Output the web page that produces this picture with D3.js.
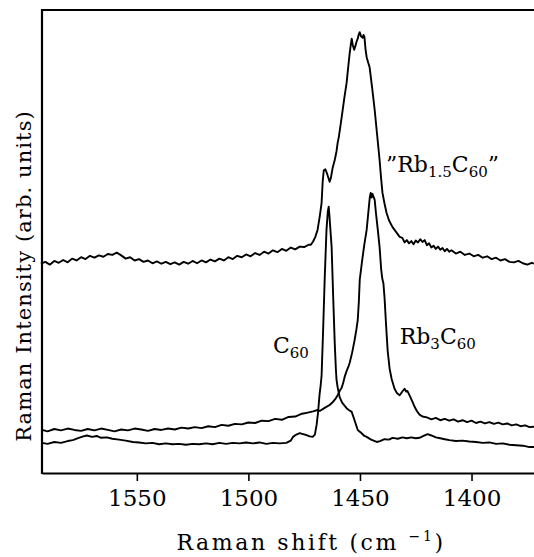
<!DOCTYPE html>
<html>
<head>
<meta charset="utf-8">
<script src="https://cdn.jsdelivr.net/npm/d3@7"></script>
<style>
  html, body { margin: 0; padding: 0; background: #fff; }
  svg { display: block; }
  text { font-family: "DejaVu Serif", serif; fill: #000; }
</style>
</head>
<body>
<svg id="chart" width="534" height="557"></svg>
<script>
// ---- data (Raman shift in cm^-1, intensity in arbitrary units) ----
const xTicks = [1550, 1500, 1450, 1400];

const rb15Shift = [1593,1591,1589,1587,1585,1583,1581,1579,1577,1575,1573,1571,1569,1567,1565,1563,1561,1559,1557,1555,1553,1551,1549,1547,1545,1543,1541,1539,1537,1535,1533,1531,1529,1527,1525,1523,1521,1519,1517,1515,1513,1511,1509,1507,1505,1503,1501,1499,1497,1495,1493,1491,1489,1487,1485,1483,1481,1479,1477,1475,1473,1472,1471,1470,1469,1468,1467.2,1466.7,1466.2,1465.5,1465,1464.3,1463.6,1463,1462.2,1461.3,1460.5,1460,1459.5,1459,1458,1457,1456,1455.3,1454.6,1454.1,1453.7,1453.2,1452.6,1452,1451.5,1451,1450.5,1450.1,1449.5,1448.8,1448.4,1448,1447.5,1447,1446.3,1445.7,1444.5,1443.4,1442.3,1441.2,1440.5,1439.9,1439,1438.1,1437,1435.4,1434,1432.2,1431,1430,1429,1428,1427,1426,1425,1424,1423,1422,1421,1420,1419,1418,1417,1416,1415,1414,1413,1412,1411,1410,1409,1407,1405,1403,1401,1399,1397,1395,1393,1391,1389,1387,1385,1383,1381,1379,1377,1375,1373,1372];
const rb15Int = [45.2,45.6,45.0,45.8,45.4,46.0,45.5,46.3,45.9,46.6,46.2,46.9,46.5,47.0,46.7,47.3,47.1,47.6,47.0,46.3,46.6,45.9,46.2,45.6,45.9,45.3,45.7,45.2,45.6,45.1,45.5,45.0,45.6,45.2,45.8,45.3,45.9,45.5,46.1,45.7,46.3,45.9,46.6,46.2,46.9,46.6,47.2,46.8,47.5,47.1,47.8,47.4,48.1,47.7,48.4,48.0,48.7,48.3,48.9,48.8,49.3,49.3,50.0,51.0,52.5,55.5,58.3,63.0,65.4,65.6,65.0,64.0,62.9,63.8,66.0,67.6,69.5,71.3,72.5,74.1,77.5,81.0,84.2,87.5,90.7,92.5,93.8,92.4,91.4,92.3,93.2,93.8,94.8,95.2,94.3,94.0,94.6,94.2,91.5,89.8,88.6,87.7,83.0,78.4,73.0,67.6,63.5,60.5,58.2,56.2,54.6,53.1,52.2,51.0,50.8,49.8,50.3,49.6,50.1,49.4,50.2,49.8,50.5,49.9,50.3,49.2,49.6,48.7,49.1,48.4,48.9,48.2,48.6,47.9,48.4,47.8,48.1,47.4,47.8,47.1,47.4,46.8,47.1,46.5,46.8,46.2,46.5,45.9,46.2,45.6,45.5,45.8,45.3,45.0,45.4,45.2];

const rb3Shift = [1592.5,1590,1587,1584,1581,1578,1575,1572,1569,1566,1563,1560,1557,1554,1551,1548,1545,1542,1539,1536,1533,1530,1527,1524,1521,1518,1515,1512,1509,1506,1503,1500,1497,1494,1491,1488,1485,1482,1479,1476,1473.9,1471,1469,1468,1466,1463.6,1462,1461,1460,1459,1458.2,1457.5,1456.9,1456,1455,1454.6,1453.5,1452.4,1451.6,1451,1450.5,1450.1,1449,1448,1447,1446.2,1445.6,1445.2,1444.8,1444.4,1443.4,1442.8,1442,1441.2,1440.5,1440,1439.5,1439,1438.3,1437.6,1436.7,1435.8,1434.5,1433.5,1432.2,1431,1430,1429.3,1428.7,1427.5,1426.5,1425.5,1424.5,1423.3,1422,1420,1418,1416,1414,1412,1410,1408,1406,1404,1402,1400,1398,1396,1394,1392,1390,1388,1386,1384,1382,1380,1378,1376,1374,1372];
const rb3Int = [9.3,9.0,9.5,9.2,9.6,9.3,9.1,9.5,9.2,9.6,9.3,9.0,9.4,9.2,9.6,9.4,9.1,9.5,9.3,9.6,9.4,9.8,9.6,9.9,9.7,10.1,9.9,10.4,10.2,10.6,10.5,10.9,10.8,11.3,11.2,11.7,11.5,12.1,12.2,12.8,13.0,13.3,13.6,13.4,14.0,14.7,15.4,16.0,16.8,17.8,18.4,19.5,20.7,22.0,23.2,23.8,26.0,28.7,31.0,33.0,37.0,41.7,46.0,49.5,52.5,56.5,59.5,60.5,59.5,60.3,59.0,56.0,52.5,48.8,44.0,42.0,41.0,38.0,32.0,26.5,22.5,20.3,18.2,17.3,16.8,17.6,18.2,17.6,17.7,16.5,15.4,14.3,13.4,12.6,12.2,12.0,11.6,11.9,11.4,11.7,11.3,11.6,11.1,11.4,11.0,11.3,10.8,11.1,10.7,11.0,10.6,10.9,10.5,10.7,10.3,10.5,10.1,10.3,9.9,10.0];

const c60Shift = [1592.5,1590,1587,1584,1581,1578.7,1576,1574,1572.4,1570,1568,1566,1563.4,1561,1558,1555,1551.8,1549,1546,1543,1540,1537,1534,1531,1528,1525,1522,1519,1516,1513,1510,1507,1504,1501,1498,1495,1492,1489,1486,1483,1481,1480,1478.5,1477,1475.5,1474,1472.5,1471.2,1470.2,1469.4,1468.8,1468.1,1467.6,1467.2,1466.5,1465.8,1465,1464.4,1464,1463.6,1462.7,1462,1461.3,1460.8,1460.5,1460,1459.1,1458,1457,1456,1455,1453.7,1452.5,1451,1449.5,1448,1447,1445,1442.5,1441,1439,1437,1435.4,1433,1431,1429,1427,1425,1423.3,1421.5,1419.7,1418,1416,1414,1412,1409.9,1407,1404,1401,1398,1395,1392,1389,1386,1383,1380,1377,1374,1372];
const c60Int = [6.5,6.3,6.7,6.5,6.9,7.1,7.6,7.9,8.1,7.8,8.0,7.6,7.7,7.4,7.2,7.0,6.7,6.6,6.4,6.5,6.2,6.4,6.2,6.3,6.1,6.3,6.2,6.4,6.2,6.5,6.3,6.5,6.4,6.6,6.4,6.6,6.3,6.5,6.4,6.5,7.0,7.8,8.3,8.6,8.4,8.2,7.9,7.8,8.3,10.5,13.0,17.0,19.0,21.0,31.0,42.0,52.5,56.5,57.5,55.0,48.8,38.0,28.0,22.5,20.1,18.5,16.4,15.2,14.6,14.0,13.6,13.2,11.5,9.3,8.7,8.0,7.8,7.2,6.7,6.9,7.3,7.2,7.6,7.4,7.7,7.5,7.7,7.5,7.6,8.0,8.4,8.1,7.7,7.5,7.3,7.1,6.9,7.0,6.8,6.7,6.5,6.6,6.3,6.4,6.1,6.0,5.9,5.6,5.6];

// label anchor positions (data coordinates)
const labelC60 = {shift: 1489, value: 25.9};
const labelRb3 = {shift: 1432.2, value: 27.8};
const labelRb15 = {shift: 1438.3, value: 65.0};

// ---- layout ----
const svg = d3.select("#chart");
const mLeft = 42, mRight = 534, mTop = 10, mBottom = 473;

const x = d3.scaleLinear().domain([1592.5, 1372]).range([mLeft, mRight]);
const y = d3.scaleLinear().domain([0, 100]).range([mBottom, mTop]);

const line = d3.line().x(d => x(d[0])).y(d => y(d[1]));

const series = [
  d3.zip(rb15Shift, rb15Int),
  d3.zip(rb3Shift, rb3Int),
  d3.zip(c60Shift, c60Int)
];

svg.selectAll("path.spec").data(series).join("path")
  .attr("class", "spec")
  .attr("d", line)
  .attr("fill", "none")
  .attr("stroke", "#000")
  .attr("stroke-width", 1.9)
  .attr("stroke-linejoin", "round");

// frame lines
svg.append("line").attr("x1", mLeft).attr("x2", mLeft).attr("y1", mTop - 1).attr("y2", mBottom + 1)
  .attr("stroke", "#000").attr("stroke-width", 2.2);
svg.append("line").attr("x1", mLeft).attr("x2", mRight).attr("y1", mTop).attr("y2", mTop)
  .attr("stroke", "#000").attr("stroke-width", 2.2);

// bottom axis
const xAxis = d3.axisBottom(x).tickValues(xTicks).tickFormat(d3.format("d"))
  .tickSize(8).tickPadding(9).tickSizeOuter(0);
const gx = svg.append("g").attr("transform", `translate(0,${mBottom})`).call(xAxis);
gx.select(".domain").attr("stroke-width", 2.2);
gx.selectAll(".tick line").attr("stroke-width", 1.6);
gx.selectAll(".tick text").attr("font-family", "DejaVu Serif").attr("font-size", 23).attr("fill", "#000");

// axis titles
const xt = svg.append("text").attr("x", 311).attr("y", 550).attr("text-anchor", "middle")
  .attr("font-size", 22).attr("letter-spacing", 2.6);
xt.append("tspan").text("Raman shift (cm ");
xt.append("tspan").attr("font-size", 14).attr("dy", -9).text("\u22121");
xt.append("tspan").attr("dy", 9).text(")");

svg.append("text")
  .attr("transform", "translate(31,276) rotate(-90)")
  .attr("text-anchor", "middle")
  .attr("font-size", 21).attr("letter-spacing", 1.1)
  .text("Raman Intensity (arb. units)");

// spectrum labels
function chem(anchor, parts) {
  const t = svg.append("text").attr("x", x(anchor.shift)).attr("y", y(anchor.value)).attr("font-size", 22);
  let shifted = false;
  parts.forEach(p => {
    const ts = t.append("tspan").text(p.t);
    if (p.sub && !shifted) { ts.attr("font-size", 15).attr("dy", 5); shifted = true; }
    else if (p.sub) { ts.attr("font-size", 15); }
    else if (!p.sub && shifted) { ts.attr("dy", -5); shifted = false; }
  });
}
chem(labelC60, [{t: "C"}, {t: "60", sub: true}]);
chem(labelRb3, [{t: "Rb"}, {t: "3", sub: true}, {t: "C"}, {t: "60", sub: true}]);
chem(labelRb15, [{t: "\u201DRb"}, {t: "1.5", sub: true}, {t: "C"}, {t: "60", sub: true}, {t: "\u201D"}]);
</script>
</body>
</html>
